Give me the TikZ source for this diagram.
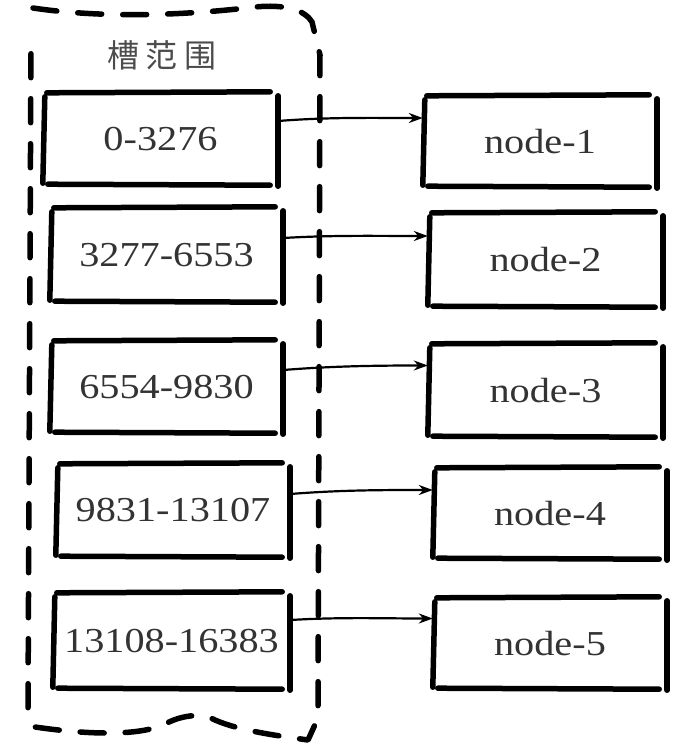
\documentclass[tikz,border=0pt]{standalone}
\usepackage{fontspec}
\setmainfont{Liberation Serif}
\newfontfamily\numfont[FakeStretch=1.15]{Liberation Serif}
\newfontfamily\cjkfont{Noto Sans CJK SC}
\usetikzlibrary{calc,arrows.meta}
\tikzset{
  slot/.style={inner sep=0pt, font=\numfont\fontsize{35}{40}\selectfont, text=black!80},
  title/.style={inner sep=0pt, font=\cjkfont\fontsize{32}{32}\selectfont, text=black!70},
  stroke/.style={line width=5.5pt, line cap=round},
  link/.style={line width=2.2pt, -{Stealth[length=14pt,width=10pt]}},
  frame/.style={line width=5.5pt, dash pattern=on 24pt off 21pt, line cap=round, line join=round},
}
\newcommand\skbox[1]{%
  \draw[stroke] ($(#1.north west)+(4,1)$) -- ($(#1.north east)+(-8,0)$);
  \draw[stroke] ($(#1.south west)+(5,-2)$) -- ($(#1.south east)+(-8,-1)$);
  \draw[stroke] ($(#1.north west)+(2,5)$) -- ($(#1.south west)+(0,-3)$);
  \draw[stroke] ($(#1.north east)+(0,4)$) -- ($(#1.south east)+(0,0)$);
}
\begin{document}
\begin{tikzpicture}[x=1pt,y=-1pt]
\useasboundingbox (0,0) rectangle (676,756);
\fill[white] (0,0) rectangle (676,756);

% container
\draw[frame] (33,8) .. controls (100,18) and (180,16) .. (255,7)
  .. controls (285,4) and (305,10) .. (312,22) -- (320,55) -- (318,718)
  -- (308,740) .. controls (280,736) and (240,731) .. (215,720)
  .. controls (200,712) and (180,716) .. (165,724)
  .. controls (140,736) and (90,735) .. (35,727) -- (28,708) -- (31,42);

\node[title] (t) at (162,55) {槽\hspace{7pt}范\hspace{7pt}围};

% slot ranges
\node[slot, minimum width=235pt, minimum height=94pt] (L1) at (160.5,139) {0-3276};
\node[slot, minimum width=233pt, minimum height=96pt] (L2) at (166.5,255) {3277-6553};
\node[slot, minimum width=233pt, minimum height=94pt] (L3) at (166.5,387) {6554-9830};
\node[slot, minimum width=234pt, minimum height=95pt] (L4) at (173,510.5) {9831-13107};
\node[slot, minimum width=237pt, minimum height=98pt] (L5) at (171.5,641) {13108-16383};

% nodes
\node[slot, minimum width=234pt, minimum height=93pt] (R1) at (540,141.5) {node-1};
\node[slot, minimum width=235pt, minimum height=96pt] (R2) at (545.5,260) {node-2};
\node[slot, minimum width=235pt, minimum height=95pt] (R3) at (545.5,390.5) {node-3};
\node[slot, minimum width=234pt, minimum height=93pt] (R4) at (550,513.5) {node-4};
\node[slot, minimum width=234pt, minimum height=93pt] (R5) at (550,643.5) {node-5};

\foreach \n in {L1,L2,L3,L4,L5,R1,R2,R3,R4,R5} {\skbox{\n}}

% links
\draw[link] ($(L1.east)+(0,-18)$) .. controls +(50,-4) and +(-50,0) .. ($(R1.west)+(0,-23.5)$);
\draw[link] ($(L2.east)+(0,-17)$) .. controls +(50,-3) and +(-50,0) .. ($(R2.west)+(0,-24)$);
\draw[link] ($(L3.east)+(0,-17)$) .. controls +(50,-4) and +(-50,0) .. ($(R3.west)+(0,-25)$);
\draw[link] ($(L4.east)+(0,-16.5)$) .. controls +(50,-4) and +(-50,0) .. ($(R4.west)+(0,-23.5)$);
\draw[link] ($(L5.east)+(0,-21)$) .. controls +(50,-3) and +(-50,0) .. ($(R5.west)+(0,-25)$);
\end{tikzpicture}
\end{document}
